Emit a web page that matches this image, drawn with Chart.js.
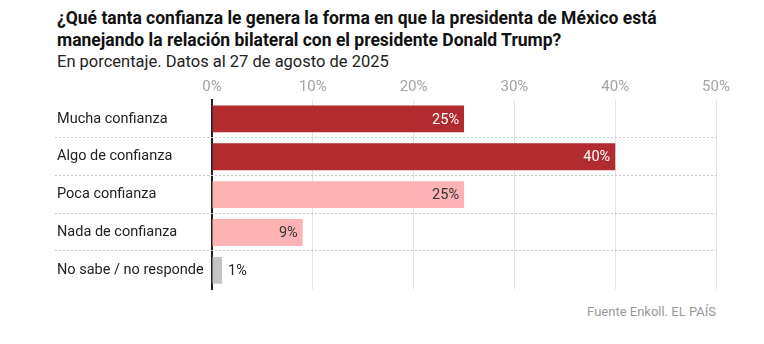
<!DOCTYPE html>
<html>
<head>
<meta charset="utf-8">
<script src="https://cdn.jsdelivr.net/npm/chart.js@4"></script>
<style>
  body { margin: 0; background: #fff; font-family: Roboto, "Liberation Sans", sans-serif; }
  #wrap { position: relative; width: 764px; height: 344px; }
  h1 { position: absolute; left: 57px; top: 7px; margin: 0; font-size: 17.5px; line-height: 22px; font-weight: 700; color: #111; width: 700px; }
  .sub { position: absolute; left: 57px; top: 52px; font-size: 16.5px; color: #222; }
  .src { position: absolute; right: 48px; top: 304px; font-size: 13px; color: #999; }
  #cv { position: absolute; left: 0; top: 74px; }
</style>
</head>
<body>
<div id="wrap">
  <h1>¿Qué tanta confianza le genera la forma en que la presidenta de México está<br>manejando la relación bilateral con el presidente Donald Trump?</h1>
  <div class="sub">En porcentaje. Datos al 27 de agosto de 2025</div>
  <canvas id="cv" width="764" height="227"></canvas>
  <div class="src">Fuente Enkoll. EL PAÍS</div>
</div>
<script>
const categories = ["Mucha confianza", "Algo de confianza", "Poca confianza", "Nada de confianza", "No sabe / no responde"];
const values = [25, 40, 25, 9, 1];
const barColors = ["#b22b2f", "#b22b2f", "#fdb3b3", "#fdb3b3", "#c4c4c4"];
const labelColors = ["#fff", "#fff", "#333", "#333", "#222"];
const xTicks = [0, 10, 20, 30, 40, 50];

const rowLines = {
  id: "rowLines",
  beforeDatasetsDraw(chart) {
    const { ctx, chartArea, scales: { y } } = chart;
    ctx.save();
    ctx.strokeStyle = "#c8c8c8";
    ctx.lineWidth = 1;
    ctx.setLineDash([2, 2]);
    for (let i = 0; i < categories.length - 1; i++) {
      const py = Math.round((y.getPixelForValue(i) + y.getPixelForValue(i + 1)) / 2) - 0.5;
      ctx.beginPath();
      ctx.moveTo(55, py);
      ctx.lineTo(chartArea.right, py);
      ctx.stroke();
    }
    ctx.restore();
  },
};

const valueLabels = {
  id: "valueLabels",
  afterDatasetsDraw(chart) {
    const { ctx } = chart;
    const meta = chart.getDatasetMeta(0);
    ctx.save();
    ctx.font = "14.5px Roboto, 'Liberation Sans', sans-serif";
    ctx.textBaseline = "middle";
    meta.data.forEach((bar, i) => {
      const txt = values[i] + "%";
      ctx.fillStyle = labelColors[i];
      if (values[i] < 5) {
        ctx.textAlign = "left";
        ctx.fillText(txt, bar.x + 6, bar.y + 1);
      } else {
        ctx.textAlign = "right";
        ctx.fillText(txt, bar.x - 5, bar.y + 1);
      }
    });
    ctx.restore();
  },
};

new Chart(document.getElementById("cv"), {
  type: "bar",
  data: {
    labels: categories,
    datasets: [{ data: values, backgroundColor: barColors, barPercentage: 1, categoryPercentage: 0.71 }],
  },
  plugins: [rowLines, valueLabels],
  options: {
    indexAxis: "y",
    responsive: false,
    animation: false,
    layout: { padding: { left: 57, right: 48, top: 0, bottom: 6 } },
    plugins: { legend: { display: false }, tooltip: { enabled: false } },
    scales: {
      x: {
        position: "top",
        min: 0,
        max: 50,
        afterBuildTicks: (s) => { s.ticks = xTicks.map((v) => ({ value: v })); },
        ticks: { color: "#a3a3a3", font: { size: 15, family: "Roboto, 'Liberation Sans', sans-serif" }, padding: 4, callback: (v) => v + "%" },
        grid: { color: "#e2e2e2", drawTicks: false, lineWidth: 1 },
        border: { display: false },
      },
      y: {
        afterFit: (s) => { s.width = 155; },
        ticks: { color: "#222", crossAlign: "far", font: { size: 14.5, family: "Roboto, 'Liberation Sans', sans-serif" } },
        grid: { display: false, drawTicks: false },
        border: { display: true, color: "#222", width: 2 },
      },
    },
  },
});
</script>
</body>
</html>
